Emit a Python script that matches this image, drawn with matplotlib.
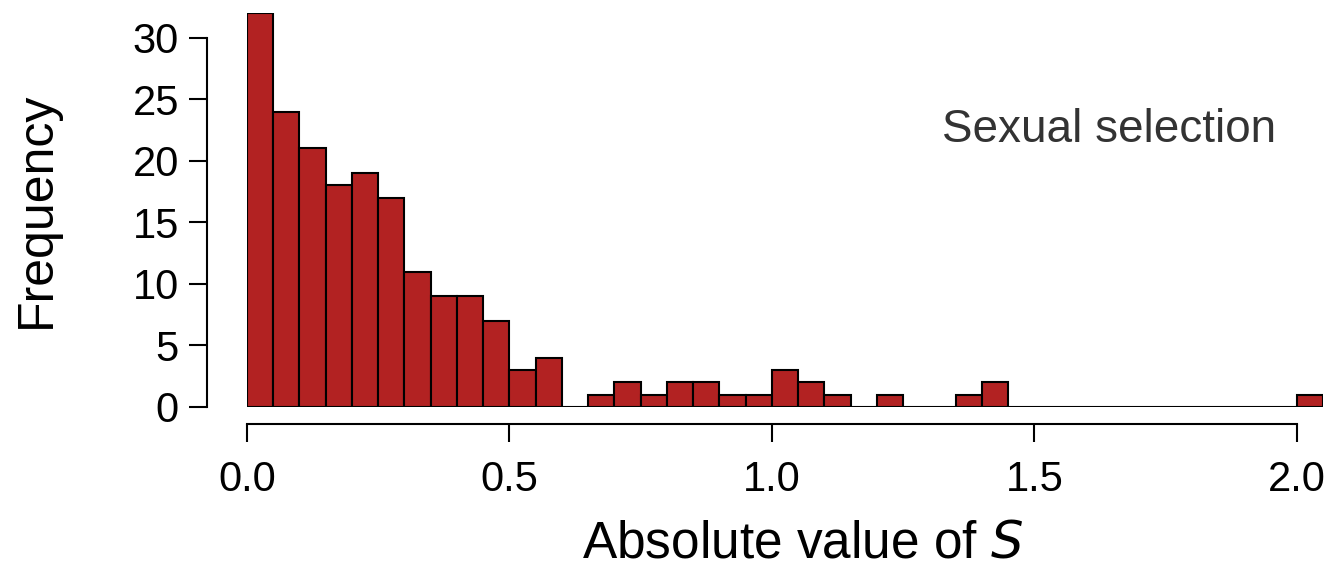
import numpy as np
import matplotlib.pyplot as plt

plt.rcParams['font.family'] = ['Liberation Sans', 'DejaVu Sans']

# histogram of |S|, bin width 0.05 from 0 to 2.05
bin_width = 0.05
counts = [32, 24, 21, 18, 19, 17, 11, 9, 9, 7, 3, 4, 0, 1, 2, 1, 2, 2, 1, 1,
          3, 2, 1, 0, 1, 0, 0, 1, 2, 0, 0, 0, 0, 0, 0, 0, 0, 0, 0, 0, 1]
edges = np.arange(len(counts)) * bin_width
yticks = [0, 5, 10, 15, 20, 25, 30]
xticks = [0.0, 0.5, 1.0, 1.5, 2.0]

fig = plt.figure(figsize=(13.26, 5.67), dpi=100)
ax = fig.add_axes([247 / 1326, 1 - 407 / 567, 1076 / 1326, 394 / 567])

ax.bar(edges, counts, width=bin_width, align='edge', color='#B22222',
       edgecolor='black', linewidth=1.5)

ax.set_xlim(0, 2.05)
ax.set_ylim(0, 32)

for s in ['top', 'right']:
    ax.spines[s].set_visible(False)
ax.spines['left'].set_position(('outward', 29))
ax.spines['bottom'].set_position(('outward', 12))
ax.spines['left'].set_bounds(0, 30)
ax.spines['bottom'].set_bounds(0, 2.0)
ax.spines['left'].set_linewidth(1.5)
ax.spines['bottom'].set_linewidth(1.5)

ax.set_yticks(yticks)
ax.set_xticks(xticks)
ax.set_xticklabels(['%.1f' % v for v in xticks])
ax.tick_params(axis='both', labelsize=30, width=1.5, length=13, color='black')
ax.tick_params(axis='y', pad=7)
ax.tick_params(axis='x', pad=13)

ax.set_ylabel('Frequency', fontsize=36, labelpad=52)
ax.set_xlabel('Absolute value of $\\mathit{S}$', fontsize=37)
ax.xaxis.set_label_coords(0.516, -0.285)

ax.text(1.325, 22.5, 'Sexual selection', fontsize=33, color='#333333',
        ha='left', va='center')

fig.savefig('out.png', dpi=100)
